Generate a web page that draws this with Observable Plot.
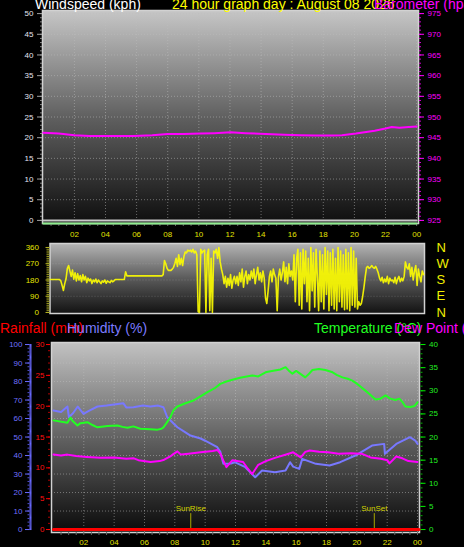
<!DOCTYPE html>
<html><head><meta charset="utf-8">
<script src="https://cdn.jsdelivr.net/npm/d3@7"></script>
<script src="https://cdn.jsdelivr.net/npm/@observablehq/plot@0.6"></script>
<style>
html,body{margin:0;padding:0;background:#000;}
#chart{position:relative;width:464px;height:547px;overflow:hidden;background:#000;font-family:"Liberation Sans",Arial,sans-serif;}
</style></head><body><div id="chart"></div>
<script>
// ---------- data ----------
const hourTicks = [2,4,6,8,10,12,14,16,18,20,22,24];
const hourLabels = ["02","04","06","08","10","12","14","16","18","20","22","00"];

const windHours = [0, 24];
const windAvg = [0, 0];
const windGust = [0, 0];

const baroHours = [0,1,2,3,3.7,5.8,7,8,9,10.1,11,12.05,13,14.3,15.5,16.5,17.5,18.6,19.2,20.1,21.3,22,22.4,22.9,23.5,24];
const baroValues = [946.2,946.0,945.6,945.4,945.4,945.4,945.6,945.9,945.9,946.0,946.1,946.3,946.1,945.9,945.7,945.6,945.5,945.5,945.6,946.0,946.7,947.2,947.6,947.4,947.6,947.7];

// wind direction, one value every 5 minutes (12 per hour)
const windDirValues = [
183,183,183,183,183,183,183,183,175,150,122,160,
185,243,260,230,200,235,185,220,175,215,180,205,
170,210,180,200,165,190,175,185,160,180,170,185,
165,180,170,160,175,168,180,162,175,170,165,178,
170,175,183,183,183,183,183,183,183,183,225,203,
203,203,203,203,203,203,203,203,203,203,203,203,
203,203,203,203,203,203,203,203,203,203,203,203,
203,203,203,210,288,270,245,233,233,233,240,250,
271,300,255,320,265,300,260,310,335,330,345,340,
345,335,350,330,340,320,5,0,350,330,340,345,
0,320,350,10,300,0,340,330,350,300,360,280,
240,210,160,200,140,190,150,210,135,180,200,160,
200,150,220,170,240,140,200,230,160,210,180,230,
190,240,160,210,250,180,220,170,230,190,80,50,
120,200,230,170,240,210,190,10,200,240,180,220,
280,170,250,160,270,200,230,180,320,60,300,350,
40,330,20,350,160,340,60,300,10,360,120,330,
30,350,200,10,340,60,320,20,360,100,340,10,
330,40,350,20,300,10,360,60,340,30,320,15,
350,20,330,10,360,40,340,30,300,20,60,40,
50,90,140,200,250,255,245,250,260,250,245,255,
240,220,190,175,195,165,185,170,200,160,190,175,
180,165,195,160,185,200,170,190,175,200,280,250,
240,270,200,250,180,230,260,150,240,200,170,230,
210];
const dirTicks = [0,90,180,270,360];
const dirLetters = ["N","E","S","W","N"];

const tempHours = [0,0.92,1.12,1.25,1.58,1.78,2.24,2.57,2.9,3.56,4.22,4.55,4.88,5.27,5.73,6.39,6.86,7.12,7.25,7.45,7.71,7.91,8.17,8.7,9.23,9.69,10.15,10.61,11.0,11.4,11.8,12.3,13.1,13.5,13.98,14.4,14.96,15.3,15.5,15.75,16.0,16.3,16.6,16.8,17.07,17.5,17.93,18.4,18.7,19.05,19.4,19.7,19.97,20.17,20.5,20.83,21.23,21.56,21.89,22.2,22.54,22.8,23.0,23.2,23.53,23.8,24];
const tempValues = [23.6,23.1,24.2,23.5,22.5,23.0,23.2,22.6,22.1,22.4,22.5,22.2,22.0,22.3,21.8,21.7,21.6,21.8,22.1,23.0,24.3,25.8,26.6,27.3,27.9,28.8,29.7,30.5,31.5,32.0,32.4,32.8,33.3,33.1,34.0,34.3,34.6,35.1,34.4,33.7,34.3,33.6,32.9,33.5,34.5,34.7,34.5,34.0,33.4,32.9,32.6,32.2,31.6,31.1,30.2,29.3,28.1,28.3,29.0,28.3,28.0,28.3,27.6,26.6,26.5,26.7,27.5];

const humHours = [0,0.5,0.92,1.02,1.3,1.6,1.98,2.3,2.9,3.5,4.6,4.8,5.27,5.9,6.39,6.9,7.25,7.5,8.17,8.7,9.03,9.7,10.0,10.8,11.0,11.2,11.7,11.95,12.65,13.3,13.75,14.6,15.3,15.6,15.8,16.2,16.4,17.3,18.2,18.9,19.9,21.0,21.8,21.85,22.6,23.5,23.85,24];
const humValues = [64.3,63.5,66.5,60.7,63,66.5,62.5,64,66.5,67,68.3,66,66.1,67,66.5,67,66.1,60.7,55.3,52.5,50.8,49.2,48,44.5,42,35.5,35.7,36.4,33.7,28.3,31.9,31.0,31.9,36.4,34,32.8,38.2,35.5,34.6,36.4,40.0,45.4,46.3,40.9,46.3,49.9,48.1,46.3];

const dewHours = [0,0.5,0.92,1.5,2.2,3.1,4.0,4.8,5.3,5.6,6.4,7.0,7.3,7.7,7.9,8.17,8.4,8.9,9.7,10.5,10.8,11.0,11.2,11.4,11.8,12.5,12.8,13.1,13.5,14.0,14.6,15.5,15.8,16.3,16.6,16.9,17.5,18.1,18.8,19.6,20.3,20.9,21.6,22.0,22.15,22.6,23.0,23.4,24];
const dewValues = [16.2,16.0,16.2,15.9,15.7,15.5,15.6,15.3,15.4,15.0,14.6,14.8,15.1,15.8,16.3,16.9,16.2,16.4,16.7,17.0,17.2,16.4,14.9,13.5,15.0,14.6,13.2,12.0,14.0,14.8,15.5,16.4,16.7,15.6,16.8,17.1,16.8,16.7,16.4,16.5,16.4,15.6,15.3,15.0,14.3,15.8,15.4,14.8,14.6];

const rainHours = [0, 24.1];
const rainValues = [0, 0];

const sunLabels = ["SunRise", "SunSet"];
const sunHours = [9.05, 21.15];

// ---------- helpers ----------
const FONT = '"Liberation Sans", Arial, sans-serif';
const fmtHour = d => hourLabels[hourTicks.indexOf(d)];
const zipRows = (hs, vs) => hs.map((h, i) => ({h, v: vs[i]}));
const gridStyle = {stroke: "#c0c0c0", strokeOpacity: 0.5, strokeDasharray: "1,2"};
const chart = document.getElementById("chart");

function addGradient(svg, id, stops) {
  const ns = "http://www.w3.org/2000/svg";
  const defs = document.createElementNS(ns, "defs");
  const lg = document.createElementNS(ns, "linearGradient");
  lg.setAttribute("id", id);
  lg.setAttribute("x1", 0); lg.setAttribute("y1", 0);
  lg.setAttribute("x2", 0); lg.setAttribute("y2", 1);
  stops.forEach(([o, c]) => {
    const s = document.createElementNS(ns, "stop");
    s.setAttribute("offset", o); s.setAttribute("stop-color", c);
    lg.appendChild(s);
  });
  defs.appendChild(lg);
  svg.insertBefore(defs, svg.firstChild);
}
function place(svg, top) {
  svg.style.position = "absolute";
  svg.style.left = "0px";
  svg.style.top = top + "px";
  svg.style.background = "none";
  svg.style.maxWidth = "none";
  chart.appendChild(svg);
}
const baseStyle = {background: "none", fontFamily: FONT, fontSize: "8px", color: "#ddd", overflow: "visible"};

// ---------- panel 1: windspeed / barometer ----------
const baroRows = zipRows(baroHours, baroValues);
const windRows = windHours.map((h, i) => ({h, avg: windAvg[i], gust: windGust[i]}));
const p1 = Plot.plot({
  width: 464, height: 240,
  marginLeft: 42, marginRight: 46, marginTop: 10, marginBottom: 17,
  style: baseStyle,
  x: {domain: [-0.05, 24.12], axis: null, label: null},
  y: {domain: [-0.75, 50.75], axis: null, label: null},
  marks: [
    Plot.frame({fill: "url(#bg1)", stroke: null}),
    Plot.gridX(hourTicks, gridStyle),
    Plot.gridY(d3.range(5, 50.1, 5), gridStyle),
    Plot.frame({stroke: "#d2d2d2", strokeWidth: 1.5}),
    Plot.axisY(d3.range(0, 50.1, 1), {anchor: "left", tickSize: 2, fill: "none", stroke: "#8a8a8a", label: null}),
    Plot.axisY(d3.range(0, 50.1, 5), {anchor: "left", tickSize: 5, tickPadding: 4, stroke: "#a0a0a0", fill: "#e4e4f0", label: null}),
    Plot.axisY(d3.range(0, 50.1, 1), {anchor: "right", tickSize: 2, fill: "none", stroke: "#d000d0", label: null}),
    Plot.axisY(d3.range(0, 50.1, 5), {anchor: "right", tickSize: 5, tickPadding: 4, stroke: "#ff00ff", fill: "#ff00ff", tickFormat: d => d + 925, label: null}),
    Plot.axisX(d3.range(0.5, 24.01, 0.5), {anchor: "bottom", tickSize: 3, fill: "none", stroke: "#666", label: null}),
    Plot.axisX(hourTicks, {anchor: "bottom", tickSize: 0, tickPadding: 8, fill: "#e0e000", tickFormat: fmtHour, label: null}),
    Plot.lineY(windRows, {x: "h", y: "gust", stroke: "#c8c8c8", strokeWidth: 2}),
    Plot.lineY(windRows, {x: "h", y: "avg", stroke: "#90ee90", strokeWidth: 2, dy: 3}),
    Plot.lineY(baroRows, {x: "h", y: d => d.v - 925, stroke: "#ff00ff", strokeWidth: 2})
  ]
});
addGradient(p1, "bg1", [["0%", "#c6c6c6"], ["50%", "#606060"], ["100%", "#0e0e0e"]]);
place(p1, 0);

// ---------- panel 2: wind direction ----------
const dirRows = windDirValues.map((v, i) => ({h: i / 12, v}));
const p2 = Plot.plot({
  width: 464, height: 80,
  marginLeft: 49.5, marginRight: 40, marginTop: 3, marginBottom: 7,
  style: baseStyle,
  x: {domain: [-0.03, 24.06], axis: null, label: null},
  y: {domain: [-5.5, 382], axis: null, label: null},
  marks: [
    Plot.frame({fill: "url(#bg2)", stroke: null}),
    Plot.gridY([90, 180, 270], {...gridStyle, strokeOpacity: 0.3}),
    Plot.frame({stroke: "#d2d2d2", strokeWidth: 1.5}),
    Plot.axisY(d3.range(0, 360.1, 10), {anchor: "left", tickSize: 3, fill: "none", stroke: "#9a9a20", label: null}),
    Plot.axisY(dirTicks, {anchor: "left", tickSize: 4, tickPadding: 7, stroke: "#b0b020", fill: "#e6e600", label: null}),
    Plot.axisY(dirTicks, {anchor: "right", tickSize: 0, tickPadding: 12, fill: "#f0f000", fontSize: 13, textAnchor: "start", tickFormat: d => dirLetters[dirTicks.indexOf(d)], label: null}),
    Plot.lineY(dirRows, {x: "h", y: "v", stroke: "#ffff00", strokeWidth: 1.6, strokeOpacity: 0.9})
  ]
});
addGradient(p2, "bg2", [["0%", "#b4b4b4"], ["50%", "#5a5a5a"], ["100%", "#121212"]]);
place(p2, 240);

// ---------- panel 3: rain / humidity / temperature / dew point ----------
const tempRows = zipRows(tempHours, tempValues);
const humRows = zipRows(humHours, humValues);
const dewRows = zipRows(dewHours, dewValues);
const rainRows = zipRows(rainHours, rainValues);
const T = d => d.v * 2.5;       // °C (0–40) onto the 0–100 scale
const R = v => v * 100 / 30;    // mm (0–30) onto the 0–100 scale
const p3 = Plot.plot({
  width: 464, height: 211,
  marginLeft: 51, marginRight: 45, marginTop: 6, marginBottom: 15,
  style: baseStyle,
  x: {domain: [-0.13, 24.13], axis: null, label: null},
  y: {domain: [-1.6, 101.1], axis: null, label: null},
  marks: [
    Plot.frame({fill: "url(#bg3)", stroke: null}),
    Plot.gridX(hourTicks, gridStyle),
    Plot.gridY(d3.range(10, 100, 10), gridStyle),
    Plot.frame({stroke: "#d2d2d2", strokeWidth: 1.5}),
    // humidity axis (blue)
    Plot.axisY(d3.range(0, 100.01, 0.5), {anchor: "left", tickSize: 2, dx: -19.5, fill: "none", stroke: "#6a6aff", label: null}),
    Plot.axisY(d3.range(0, 100.01, 2), {anchor: "left", tickSize: 2, dx: -21.5, fill: "none", stroke: "#5050d0", label: null}),
    Plot.axisY(d3.range(0, 100.01, 10), {anchor: "left", tickSize: 4.5, tickPadding: 3, dx: -21.5, stroke: "#6a6aff", fill: "#7070ff", label: null}),
    // rainfall axis (red)
    Plot.axisY(d3.range(0, 30.01, 1).map(R), {anchor: "left", tickSize: 2, dx: -1, fill: "none", stroke: "#b00000", label: null}),
    Plot.axisY(d3.range(0, 30.01, 5).map(R), {anchor: "left", tickSize: 4, tickPadding: 2, dx: -1, stroke: "#ff0000", fill: "#ff1010", tickFormat: d => Math.round(d * 30 / 100), label: null}),
    // temperature axis (green)
    Plot.axisY(d3.range(0, 100.01, 2.5), {anchor: "right", tickSize: 2, dx: 0.5, fill: "none", stroke: "#00b000", label: null}),
    Plot.axisY(d3.range(0, 100.01, 12.5), {anchor: "right", tickSize: 5, tickPadding: 4, dx: 0.5, stroke: "#00ee00", fill: "#22ee22", tickFormat: d => Math.round(d / 2.5), label: null}),
    // x axis
    Plot.axisX(d3.range(0.5, 24.01, 0.5), {anchor: "bottom", tickSize: 3, fill: "none", stroke: "#666", label: null}),
    Plot.axisX(hourTicks, {anchor: "bottom", tickSize: 0, tickPadding: 7, fill: "#e0e000", tickFormat: fmtHour, label: null}),
    // sun events
    Plot.ruleX(sunHours, {x: d => d, y1: 0, y2: 8.6, stroke: "#a8a800", strokeWidth: 1}),
    Plot.text(sunHours, {x: d => d, y: 11.3, text: (d, i) => sunLabels[i], fill: "#d4d400", fontSize: 8}),
    // series
    Plot.lineY(rainRows, {x: "h", y: d => R(d.v), stroke: "#ff0000", strokeWidth: 3}),
    Plot.lineY(humRows, {x: "h", y: "v", stroke: "#7878ff", strokeWidth: 2}),
    Plot.lineY(dewRows, {x: "h", y: T, stroke: "#ff00ff", strokeWidth: 2}),
    Plot.lineY(tempRows, {x: "h", y: T, stroke: "#22ff22", strokeWidth: 2})
  ]
});
addGradient(p3, "bg3", [["0%", "#c2c2c2"], ["50%", "#626262"], ["100%", "#0a0a0a"]]);
place(p3, 336);

// ---------- titles ----------
const ov = d3.select(chart).append("svg")
  .attr("width", 464).attr("height", 547)
  .style("position", "absolute").style("left", "0px").style("top", "0px")
  .style("font-family", FONT).style("font-size", "14px");
const title = (txt, x, y, c) => ov.append("text").attr("x", x).attr("y", y).attr("fill", c).text(txt);
title("Windspeed (kph)", 35, 8.5, "#ffffff");
title("24 hour graph day : August 08 2026", 172, 8.5, "#ffff00");
title("Barometer (hpa)", 374, 8.5, "#ff00ff");
title("Rainfall (mm)", 0, 333, "#ff0000");
title("Humidity (%)", 67, 333, "#7b7bff");
title("Temperature (°C)", 314, 333, "#22ff22");
title("Dew Point (°C)", 394, 333, "#ff00ff");
</script></body></html>
